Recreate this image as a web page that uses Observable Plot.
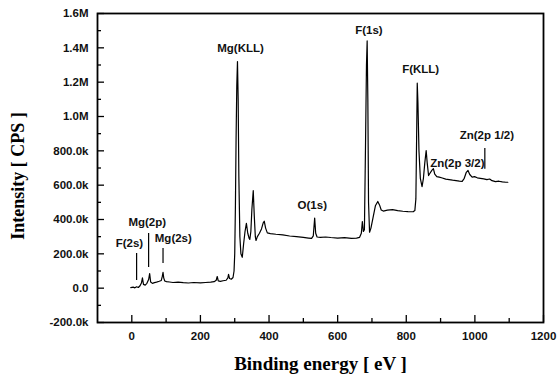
<!DOCTYPE html>
<html><head><meta charset="utf-8">
<script src="https://cdn.jsdelivr.net/npm/d3@7"></script>
<script src="https://cdn.jsdelivr.net/npm/@observablehq/plot@0.6"></script>
<style>body{margin:0;background:#fff}</style>
</head><body><div id="chart"></div>
<script>
// Binding energy (eV) and intensity (CPS)
const energy = [-3,4,9,14,19,24,28,31,34,39,44,49,52,55,60,66,72,80,86,89,91,93,96,101,110,120,135,150,165,180,200,215,230,240,246,249,252,258,266,275,280,282,285,290,295,298,300,302,304,306,308,310,312,315,318,322,326,330,334,338,342,344,347,350,354,357,360,362,366,372,378,383,386,390,395,404,420,440,460,480,500,515,524,529,533,536,540,550,565,580,600,620,640,655,664,669,672,675,678,681,684,686,688,690,693,697,703,710,717,722,727,733,745,760,775,790,805,820,825,828,830,832,834,837,841,846,850,854,858,861,865,870,875,879,883,889,896,905,915,925,935,945,955,963,969,975,980,985,992,999,1007,1016,1026,1035,1043,1050,1060,1070,1080,1090,1096];
const counts = [3e3,6e3,2e3,8e3,4e3,14e3,30e3,60e3,22e3,18e3,28e3,50e3,85e3,36e3,28e3,32e3,35e3,40e3,45e3,70e3,92e3,60e3,42e3,38e3,36e3,33e3,35e3,32e3,30e3,33e3,31e3,33e3,35e3,38e3,46e3,68e3,42e3,40e3,43e3,46e3,60e3,80e3,56e3,52e3,62e3,100e3,200e3,480e3,880e3,1180e3,1320e3,1100e3,650e3,300e3,200e3,180e3,260e3,330e3,378e3,320e3,290e3,284e3,330e3,460e3,568e3,420e3,300e3,278e3,300e3,320e3,345e3,380e3,390e3,350e3,322e3,318e3,314e3,310e3,304e3,300e3,296e3,292e3,290e3,305e3,408e3,320e3,298e3,296e3,298e3,295e3,292e3,294e3,290e3,292e3,296e3,320e3,388e3,330e3,340e3,800e3,1300e3,1440e3,1100e3,500e3,326e3,350e3,410e3,480e3,505e3,485e3,455e3,449e3,455e3,457e3,452e3,448e3,446e3,445e3,452e3,520e3,850e3,1194e3,1080e3,800e3,640e3,592e3,640e3,730e3,802e3,730e3,656e3,672e3,688e3,696e3,665e3,650e3,647e3,642e3,635e3,632e3,629e3,627e3,624e3,622e3,640e3,675e3,686e3,662e3,647e3,650e3,643e3,640e3,637e3,632e3,636e3,626e3,621e3,623e3,619e3,617e3,617e3];

const xMajorTicks = [0,200,400,600,800,1000,1200];
const xTickLabels = ["0","200","400","600","800","1000","1200"];
const xMinorTicks = [100,300,500,700,900,1100];
const yMajorTicks = [-200000,0,200000,400000,600000,800000,1000000,1200000,1400000,1600000];
const yTickLabels = ["-200.0k","0.0","200.0k","400.0k","600.0k","800.0k","1.0M","1.2M","1.4M","1.6M"];
const yMinorTicks = [-100000,100000,300000,500000,700000,900000,1100000,1300000,1500000];

// peak annotations
const peakNames = ["Mg(KLL)","F(1s)","F(KLL)","O(1s)","Zn(2p 3/2)","Zn(2p 1/2)","Mg(2p)","F(2s)","Mg(2s)"];
const peakLabelX = [317,691,842,526,949,1035,45,-7,121];
const peakLabelY = [1400000,1500000,1274000,482000,725000,889000,385000,262000,291000];
const leaderX = [14,49,91,1029];
const leaderY1 = [45000,121000,144000,692000];
const leaderY2 = [202000,319000,231000,814000];

const spectrum = energy.map((e, i) => ({e, c: counts[i]}));
const labels = peakNames.map((t, i) => ({t, x: peakLabelX[i], y: peakLabelY[i]}));
const leaders = leaderX.map((x, i) => ({x, y1: leaderY1[i], y2: leaderY2[i]}));

const W = 557, H = 374, ML = 97, MR = 14, MT = 13, MB = 52;
const frameW = W - ML - MR, frameH = H - MT - MB;
const serif = "'Liberation Serif','Times New Roman',serif";
const chart = Plot.plot({
  width: W, height: H,
  marginLeft: ML, marginRight: MR, marginTop: MT, marginBottom: MB,
  x: {domain: [-100, 1200]},
  y: {domain: [-200000, 1600000]},
  style: {fontFamily: "'Liberation Sans',Arial,sans-serif", fontSize: "11.5px", fontWeight: "bold", color: "#111", background: "#fff"},
  marks: [
    Plot.axisX({ticks: xMajorTicks, tickSize: 0, tickPadding: 9, tickFormat: d => xTickLabels[xMajorTicks.indexOf(d)], label: null}),
    Plot.axisY({ticks: yMajorTicks, tickSize: 0, tickPadding: 9, tickFormat: d => yTickLabels[yMajorTicks.indexOf(d)], label: null}),
    // inward ticks
    Plot.tickX(xMajorTicks, {x: d => d, insetTop: frameH - 7, stroke: "#000", strokeWidth: 1.3}),
    Plot.tickX(xMinorTicks, {x: d => d, insetTop: frameH - 4, stroke: "#000", strokeWidth: 1.3}),
    Plot.tickY(yMajorTicks, {y: d => d, insetRight: frameW - 7, stroke: "#000", strokeWidth: 1.3}),
    Plot.tickY(yMinorTicks, {y: d => d, insetRight: frameW - 4, stroke: "#000", strokeWidth: 1.3}),
    Plot.line(spectrum, {x: "e", y: "c", stroke: "#000", strokeWidth: 1.2, strokeLinejoin: "round"}),
    Plot.ruleX(leaders, {x: "x", y1: "y1", y2: "y2", stroke: "#000", strokeWidth: 1.2}),
    Plot.text(labels, {x: "x", y: "y", text: "t", fontSize: 11.5, fontWeight: "bold", fill: "#111"}),
    Plot.frame({stroke: "#000", strokeWidth: 1.8}),
    Plot.text(["Binding energy [ eV ]"], {frameAnchor: "bottom", dy: 41, textAnchor: "middle", lineAnchor: "middle", fontFamily: serif, fontSize: 19, fontWeight: "bold", fill: "#000", style: "letter-spacing:0.6px"}),
    Plot.text(["Intensity [ CPS ]"], {frameAnchor: "left", dx: -79, dy: 8, textAnchor: "middle", lineAnchor: "middle", rotate: -90, fontFamily: serif, fontSize: 18, fontWeight: "bold", fill: "#000"})
  ]
});
document.getElementById("chart").appendChild(chart);
</script>
</body></html>
